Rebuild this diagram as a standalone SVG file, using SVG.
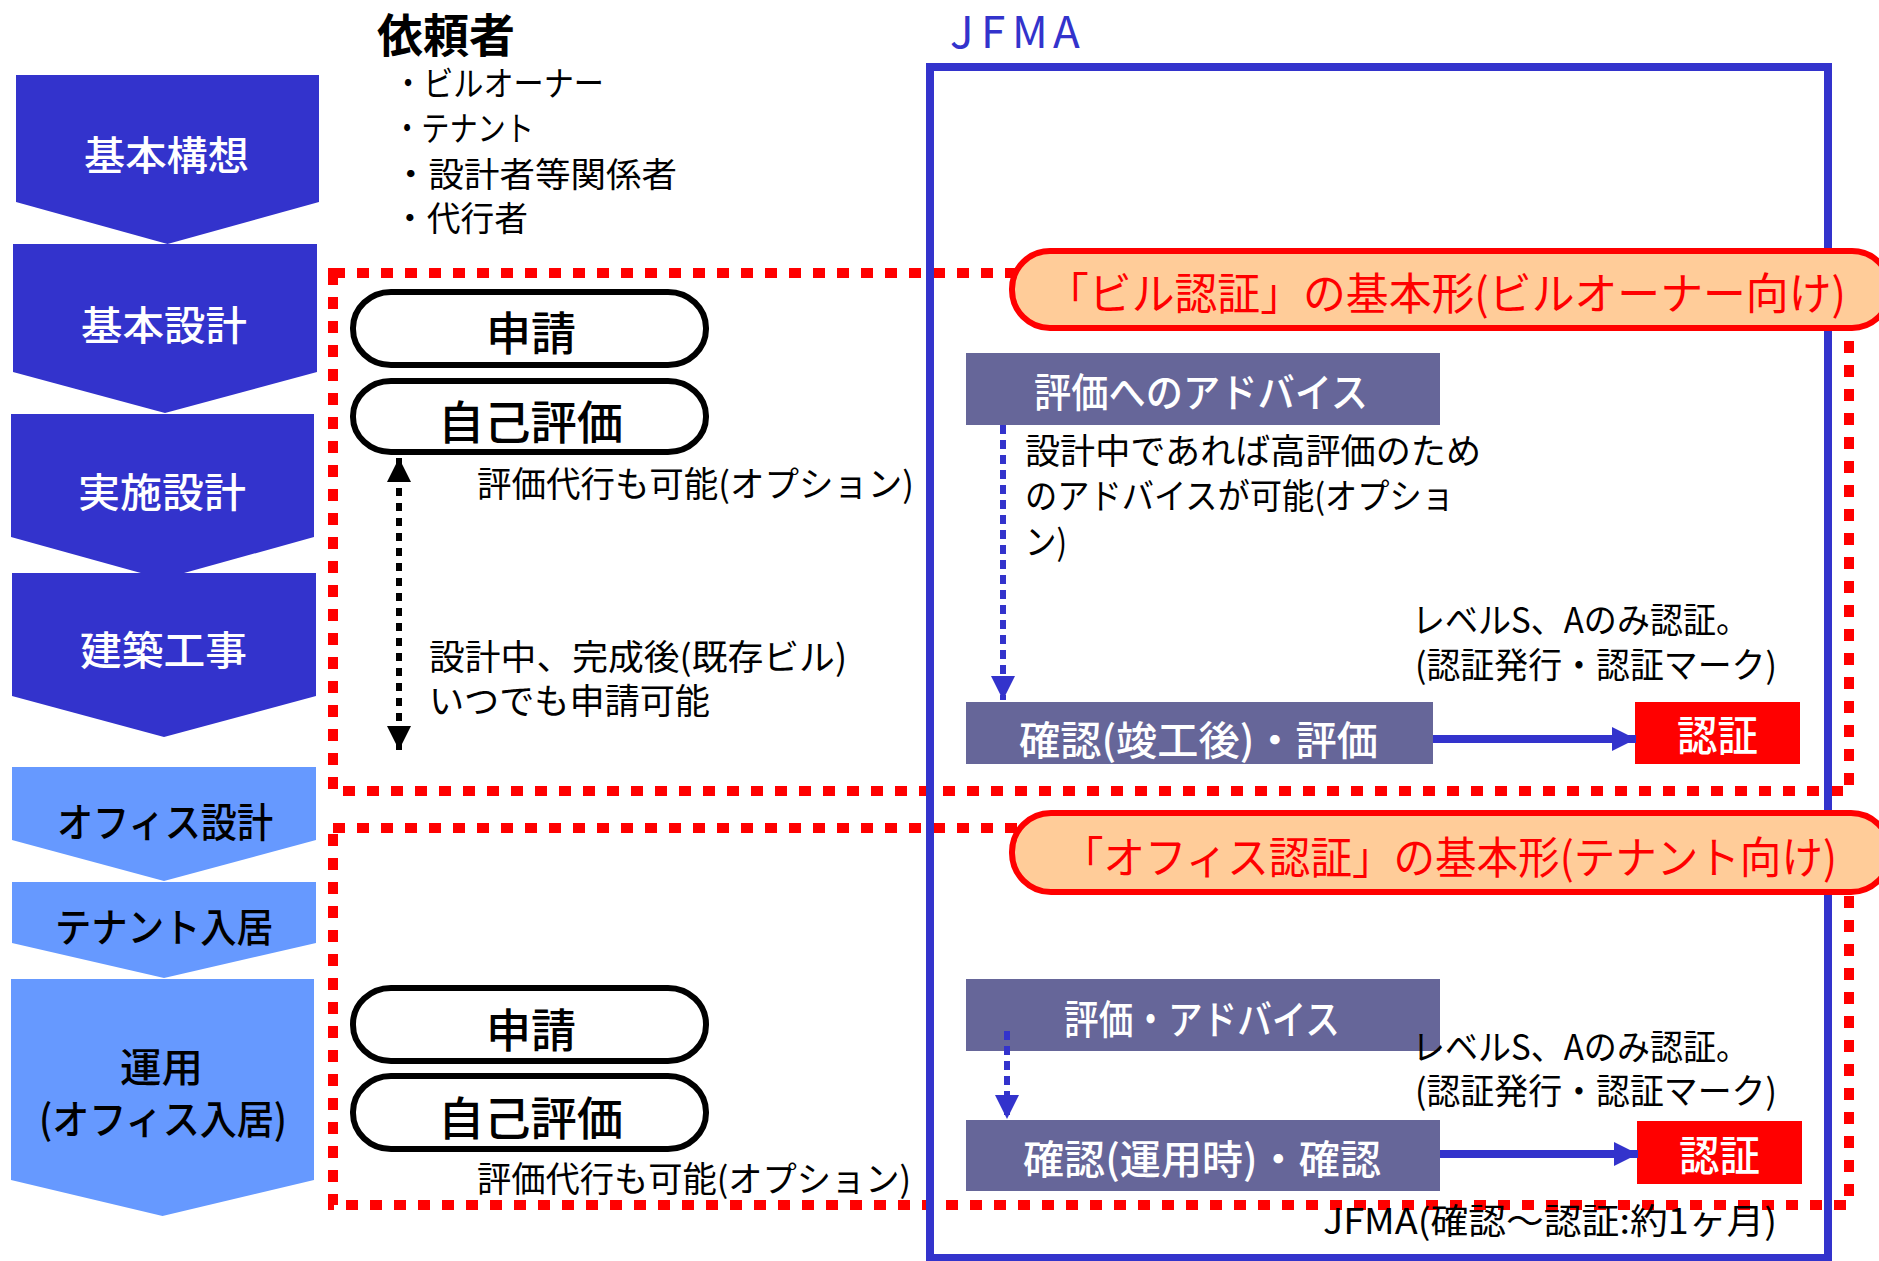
<svg xmlns="http://www.w3.org/2000/svg" width="1879" height="1261" viewBox="0 0 1879 1261">
<defs>
<style>
text{font-family:"Noto Sans CJK JP","Noto Sans CJK SC",sans-serif;}
.chevD{fill:#3333CC}
.chevL{fill:#6699FF}
.cw{fill:#ffffff;font-size:40px;font-weight:500}
.cb{fill:#000000;font-size:40px;font-weight:500}
.pill{fill:#ffffff;stroke:#000000;stroke-width:6}
.pt{font-size:46px;fill:#000000;font-weight:500}
.t35{font-size:35px;fill:#000000}
.li{font-size:34px;fill:#000000}
.box{fill:#666699}
.bt{font-size:40px;fill:#ffffff;font-weight:500}
.red{fill:#FF0000}
.rt{font-size:42px;fill:#ffffff;font-weight:500}
.badge{fill:#FFCC99;stroke:#FF0000;stroke-width:6}
.badget{font-size:44px;fill:#FF0000}
.dotred{fill:none;stroke:#FF0000;stroke-width:10;stroke-dasharray:12 12}
.jfma{fill:none;stroke:#3333CC;stroke-width:8}
.blueSolid{stroke:#3333CC;stroke-width:8;fill:none}
.blueDot{stroke:#3333CC;stroke-width:6;stroke-dasharray:9 6;fill:none}
.blackDot{stroke:#000000;stroke-width:6;stroke-dasharray:8 7;fill:none}
</style>
<marker id="ahB" markerUnits="userSpaceOnUse" markerWidth="24" markerHeight="24" refX="24" refY="12" orient="auto-start-reverse" viewBox="0 0 24 24"><path d="M0,0L24,12L0,24z" fill="#3333CC"/></marker>
<marker id="ahK" markerUnits="userSpaceOnUse" markerWidth="24" markerHeight="24" refX="24" refY="12" orient="auto-start-reverse" viewBox="0 0 24 24"><path d="M0,0L24,12L0,24z" fill="#000000"/></marker>
</defs>
<rect width="1879" height="1261" fill="#ffffff"/>

<!-- phase chevrons -->
<g id="phase-kihonkoso"><polygon class="chevD" points="16,75 319,75 319,202 167.5,244 16,202"/><text class="cw" x="84" y="170" textLength="165" lengthAdjust="spacingAndGlyphs">基本構想</text></g>
<g id="phase-kihonsekkei"><polygon class="chevD" points="13,244 317,244 317,372 165,413 13,372"/><text class="cw" x="81" y="340" textLength="166" lengthAdjust="spacingAndGlyphs">基本設計</text></g>
<g id="phase-jisshisekkei"><polygon class="chevD" points="11,414 314,414 314,537 162.5,579 11,537"/><text class="cw" x="78" y="507" textLength="168" lengthAdjust="spacingAndGlyphs">実施設計</text></g>
<g id="phase-kenchiku"><polygon class="chevD" points="12,573 316,573 316,696 164,737 12,696"/><text class="cw" x="80" y="665" textLength="167" lengthAdjust="spacingAndGlyphs">建築工事</text></g>
<g id="phase-office"><polygon class="chevL" points="12,767 316,767 316,840 164,881 12,840"/><text class="cb" x="57" y="837" textLength="216" lengthAdjust="spacingAndGlyphs">オフィス設計</text></g>
<g id="phase-tenant"><polygon class="chevL" points="12,882 316,882 316,943 164,978 12,943"/><text class="cb" x="55" y="942" textLength="218" lengthAdjust="spacingAndGlyphs">テナント入居</text></g>
<g id="phase-unyo"><polygon class="chevL" points="11,979 314,979 314,1180 162.5,1216 11,1180"/><text class="cb" x="120" y="1082" textLength="83" lengthAdjust="spacingAndGlyphs">運用</text><text class="cb" x="39" y="1134" textLength="248" lengthAdjust="spacingAndGlyphs">(オフィス入居)</text></g>

<!-- requester header -->
<g id="requester">
<text x="377" y="52" font-size="46" font-weight="700" fill="#000" textLength="138" lengthAdjust="spacingAndGlyphs">依頼者</text>
<text class="li" x="393" y="96" textLength="211" lengthAdjust="spacingAndGlyphs">・ビルオーナー</text>
<text class="li" x="393" y="141" textLength="141" lengthAdjust="spacingAndGlyphs">・テナント</text>
<text class="li" x="393" y="187" textLength="284" lengthAdjust="spacingAndGlyphs">・設計者等関係者</text>
<text class="li" x="393" y="231" textLength="135" lengthAdjust="spacingAndGlyphs">・代行者</text>
</g>

<!-- red dotted scope boxes -->
<g id="scope-building"><rect class="dotred" x="333" y="273" width="1516" height="518"/></g>
<g id="scope-office"><rect class="dotred" x="333" y="828" width="1516" height="377"/></g>

<!-- JFMA frame -->
<g id="jfma-frame">
<rect class="jfma" x="930" y="67" width="898" height="1191"/>
<text x="950 981 1012 1053" y="48" font-family="Liberation Sans, Arial, sans-serif" font-size="44" fill="#3333CC">JFMA</text>
</g>

<!-- badges -->
<g id="badge-building"><rect class="badge" x="1012" y="251" width="878" height="77" rx="38" ry="38"/><text class="badget" x="1046" y="310" textLength="800" lengthAdjust="spacingAndGlyphs">「ビル認証」の基本形(ビルオーナー向け)</text></g>
<g id="badge-office"><rect class="badge" x="1012" y="813" width="878" height="79" rx="39" ry="39"/><text class="badget" x="1062" y="874" textLength="775" lengthAdjust="spacingAndGlyphs">「オフィス認証」の基本形(テナント向け)</text></g>

<!-- requester pills -->
<g id="pill-shinsei-1"><rect class="pill" x="353" y="292" width="353" height="73" rx="38" ry="36"/><text class="pt" x="486" y="350" textLength="90" lengthAdjust="spacingAndGlyphs">申請</text></g>
<g id="pill-jiko-1"><rect class="pill" x="353" y="381" width="353" height="71" rx="38" ry="35"/><text class="pt" x="438" y="439" textLength="185" lengthAdjust="spacingAndGlyphs">自己評価</text></g>
<g id="pill-shinsei-2"><rect class="pill" x="353" y="988" width="353" height="73" rx="38" ry="36"/><text class="pt" x="486" y="1047" textLength="90" lengthAdjust="spacingAndGlyphs">申請</text></g>
<g id="pill-jiko-2"><rect class="pill" x="353" y="1076" width="353" height="73" rx="38" ry="36"/><text class="pt" x="438" y="1135" textLength="185" lengthAdjust="spacingAndGlyphs">自己評価</text></g>

<!-- notes left -->
<g id="notes-left">
<text class="t35" x="477" y="497" textLength="437" lengthAdjust="spacingAndGlyphs">評価代行も可能(オプション)</text>
<text class="t35" x="429" y="670" textLength="418" lengthAdjust="spacingAndGlyphs">設計中、完成後(既存ビル)</text>
<text class="t35" x="429" y="714" textLength="281" lengthAdjust="spacingAndGlyphs">いつでも申請可能</text>
<text class="t35" x="477" y="1192" textLength="434" lengthAdjust="spacingAndGlyphs">評価代行も可能(オプション)</text>
</g>

<!-- JFMA process boxes -->
<g id="box-advice"><rect class="box" x="966" y="353" width="474" height="72"/><text class="bt" x="1034" y="407" textLength="334" lengthAdjust="spacingAndGlyphs">評価へのアドバイス</text></g>
<g id="box-check-1"><rect class="box" x="966" y="702" width="467" height="62"/><text class="bt" x="1019" y="755" textLength="359" lengthAdjust="spacingAndGlyphs">確認(竣工後)・評価</text></g>
<g id="box-cert-1"><rect class="red" x="1635" y="702" width="165" height="62"/><text class="rt" x="1677" y="751" textLength="81" lengthAdjust="spacingAndGlyphs">認証</text></g>
<g id="box-eval-advice"><rect class="box" x="966" y="979" width="474" height="72"/><text class="bt" x="1064" y="1034" textLength="276" lengthAdjust="spacingAndGlyphs">評価・アドバイス</text></g>
<g id="box-check-2"><rect class="box" x="966" y="1120" width="474" height="71"/><text class="bt" x="1023" y="1174" textLength="358" lengthAdjust="spacingAndGlyphs">確認(運用時)・確認</text></g>
<g id="box-cert-2"><rect class="red" x="1637" y="1121" width="165" height="63"/><text class="rt" x="1679" y="1171" textLength="81" lengthAdjust="spacingAndGlyphs">認証</text></g>

<!-- notes right -->
<g id="notes-right">
<text class="t35" x="1025" y="464" textLength="456" lengthAdjust="spacingAndGlyphs">設計中であれば高評価のため</text>
<text class="t35" x="1025" y="509" textLength="429" lengthAdjust="spacingAndGlyphs">のアドバイスが可能(オプショ</text>
<text class="t35" x="1025" y="555" textLength="42" lengthAdjust="spacingAndGlyphs">ン)</text>
<text class="t35" x="1412" y="633" textLength="337" lengthAdjust="spacingAndGlyphs">レベルS、Aのみ認証。</text>
<text class="t35" x="1415" y="678" textLength="362" lengthAdjust="spacingAndGlyphs">(認証発行・認証マーク)</text>
<text class="t35" x="1412" y="1060" textLength="337" lengthAdjust="spacingAndGlyphs">レベルS、Aのみ認証。</text>
<text class="t35" x="1415" y="1104" textLength="362" lengthAdjust="spacingAndGlyphs">(認証発行・認証マーク)</text>
<text class="t35" x="1323" y="1234" textLength="454" lengthAdjust="spacingAndGlyphs">JFMA(確認～認証:約1ヶ月)</text>
</g>

<!-- connectors -->
<g id="connectors">
<line class="blackDot" x1="399" y1="458" x2="399" y2="750" marker-start="url(#ahK)" marker-end="url(#ahK)"/>
<line class="blueDot" x1="1003" y1="425" x2="1003" y2="700" marker-end="url(#ahB)"/>
<line class="blueDot" x1="1007" y1="1031" x2="1007" y2="1119" marker-end="url(#ahB)"/>
<line class="blueSolid" x1="1433" y1="739" x2="1636" y2="739" marker-end="url(#ahB)"/>
<line class="blueSolid" x1="1440" y1="1154" x2="1638" y2="1154" marker-end="url(#ahB)"/>
</g>
</svg>
